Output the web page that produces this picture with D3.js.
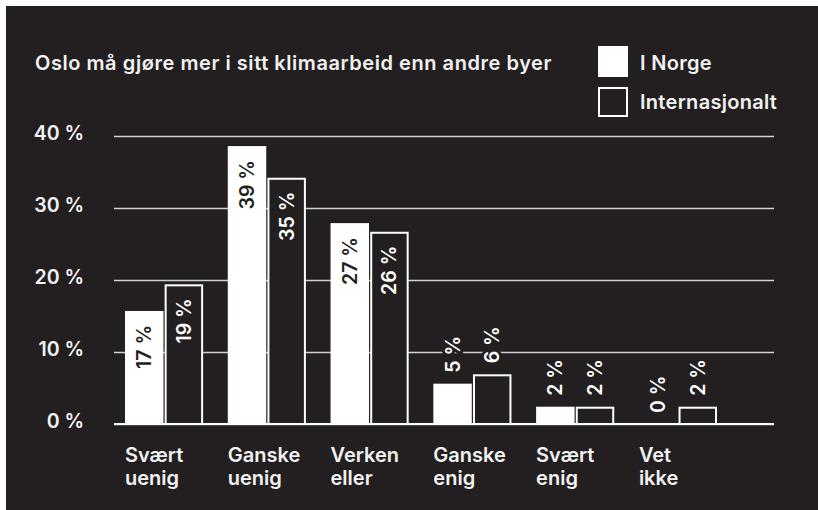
<!DOCTYPE html>
<html>
<head>
<meta charset="utf-8">
<script src="https://cdn.jsdelivr.net/npm/d3@7"></script>
<style>
  html, body { margin: 0; padding: 0; background: #fff; }
  svg { display: block; font-family: Inter, "Noto Sans", sans-serif; font-weight: 600; }
</style>
</head>
<body>
<svg id="chart" width="818" height="510"></svg>
<script>
const title = "Oslo må gjøre mer i sitt klimaarbeid enn andre byer";
const categories = ["Svært uenig", "Ganske uenig", "Verken eller", "Ganske enig", "Svært enig", "Vet ikke"];
const seriesNames = ["I Norge", "Internasjonalt"];
// bar heights as drawn, and the printed labels
const norgeValues = [15.7, 38.6, 27.9, 5.6, 2.4, 0];
const intlValues = [19.4, 34.2, 26.7, 6.9, 2.4, 2.4];
const norgeLabels = ["17 %", "39 %", "27 %", "5 %", "2 %", "0 %"];
const intlLabels = ["19 %", "35 %", "26 %", "6 %", "2 %", "2 %"];
const yTicks = [0, 10, 20, 30, 40];

const bg = "#231f20";
const svg = d3.select("#chart");

// frame: thin white edge top/left, dark panel
svg.append("rect").attr("width", 818).attr("height", 510).attr("fill", "#fff");
svg.append("rect").attr("x", 6).attr("y", 6).attr("width", 812).attr("height", 504).attr("fill", bg);

const y = d3.scaleLinear().domain([0, 40]).range([424, 136]);
const x0 = d3.scaleBand().domain(categories).range([125, 717]).paddingInner(0.24);
const x1 = d3.scaleBand().domain(seriesNames).range([0, x0.bandwidth()]).paddingInner(0.03);

// y axis + grid
const yAxis = svg.append("g")
  .attr("transform", "translate(114,0)")
  .call(d3.axisLeft(y).tickValues(yTicks).tickSize(-660).tickPadding(30).tickFormat(d => d + " %"));
yAxis.select(".domain").remove();
yAxis.selectAll("line").attr("stroke", "#d0d0d0").attr("stroke-width", 1.5);
yAxis.selectAll("text")
  .attr("fill", "#f2f2f2").attr("font-size", 19.5).attr("font-family", "Inter, sans-serif")
  .attr("font-weight", 600).attr("dy", "0.2em");

const rows = categories.map((c, i) => ({
  cat: c,
  bars: [
    { key: seriesNames[0], v: norgeValues[i], label: norgeLabels[i] },
    { key: seriesNames[1], v: intlValues[i], label: intlLabels[i] }
  ]
}));

const groups = svg.append("g").selectAll("g")
  .data(rows).join("g")
  .attr("transform", d => "translate(" + x0(d.cat) + ",0)");

groups.selectAll("rect")
  .data(d => d.bars).join("rect")
  .attr("x", d => d.key === seriesNames[0] ? x1(d.key) : x1(d.key) + 1)
  .attr("y", d => d.key === seriesNames[0] ? y(d.v) : y(d.v) + 1)
  .attr("width", d => d.key === seriesNames[0] ? x1.bandwidth() : x1.bandwidth() - 2)
  .attr("height", d => d.key === seriesNames[0] ? y(0) - y(d.v) : Math.max(0, y(0) - y(d.v) - 1))
  .attr("fill", d => d.key === seriesNames[0] ? "#fff" : bg)
  .attr("stroke", d => d.key === seriesNames[0] ? "none" : "#fff")
  .attr("stroke-width", 2)
  .attr("display", d => d.v > 0 ? null : "none");

// value labels, rotated
groups.selectAll("text.val")
  .data(d => d.bars).join("text")
  .attr("class", "val")
  .attr("transform", d => {
    const cx = x1(d.key) + x1.bandwidth() / 2;
    const ty = d.v >= 10 ? y(d.v) + 14 : y(d.v) - 11;
    return "translate(" + cx + "," + ty + ") rotate(-90)";
  })
  .attr("dy", "0.36em")
  .attr("text-anchor", d => d.v >= 10 ? "end" : "start")
  .attr("font-size", 19.5)
  .attr("fill", d => d.v >= 10 && d.key === seriesNames[0] ? bg : "#fff")
  .attr("stroke", d => d.v >= 10 ? "none" : bg)
  .attr("stroke-width", 6)
  .attr("paint-order", "stroke")
  .text(d => d.label);

// baseline
svg.append("line")
  .attr("x1", 114).attr("x2", 774).attr("y1", y(0)).attr("y2", y(0))
  .attr("stroke", "#fff").attr("stroke-width", 2);

// category labels
const catText = svg.append("g").selectAll("text")
  .data(categories).join("text")
  .attr("x", d => x0(d))
  .attr("y", 462)
  .attr("fill", "#f2f2f2")
  .attr("font-size", 20);
catText.selectAll("tspan")
  .data(d => d.split(" ")).join("tspan")
  .attr("x", function() { return d3.select(this.parentNode).attr("x"); })
  .attr("dy", (d, i) => i === 0 ? 0 : 23)
  .text(d => d);

// title
svg.append("text")
  .attr("x", 35).attr("y", 70)
  .attr("fill", "#f2f2f2").attr("font-size", 20)
  .attr("letter-spacing", 0.55)
  .text(title);

// legend
const legend = svg.append("g").selectAll("g")
  .data(seriesNames).join("g")
  .attr("transform", (d, i) => "translate(598," + (46 + i * 41) + ")");
legend.append("rect")
  .attr("x", (d, i) => i === 0 ? 0 : 1)
  .attr("y", (d, i) => i === 0 ? 0 : 1)
  .attr("width", (d, i) => i === 0 ? 30 : 28)
  .attr("height", (d, i) => i === 0 ? 31 : 28)
  .attr("fill", (d, i) => i === 0 ? "#fff" : bg)
  .attr("stroke", (d, i) => i === 0 ? "none" : "#fff")
  .attr("stroke-width", 2);
legend.append("text")
  .attr("x", 42).attr("y", (d, i) => i === 0 ? 24 : 22)
  .attr("fill", "#f2f2f2").attr("font-size", 20)
  .attr("letter-spacing", 0.3)
  .text(d => d);
</script>
</body>
</html>
